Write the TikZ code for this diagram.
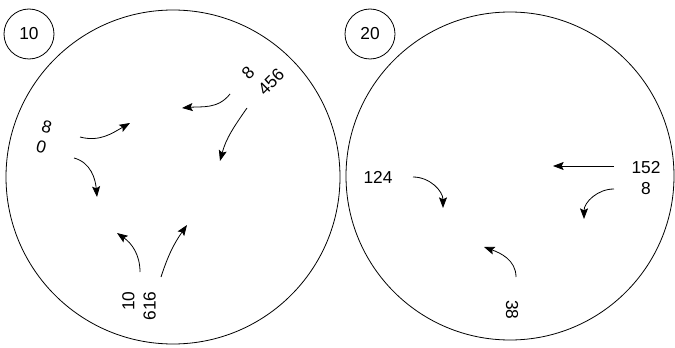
\documentclass[tikz,border=0pt]{standalone}
\usepackage{fontspec}
\setmainfont{Liberation Sans}
\usetikzlibrary{arrows.meta}

\begin{document}
\begin{tikzpicture}[x=0.75pt,y=0.75pt,line width=0.6pt]
  \tikzstyle{every node}=[font=\fontsize{13}{16}\selectfont, inner sep=0pt]
  \tikzstyle{tag}=[circle, draw, minimum size=37.5pt]
  \tikzstyle{flow}=[-{Stealth[length=8pt,width=6pt,inset=1.5pt]}]
  \useasboundingbox (0,0) rectangle (675,347);

  % round 10
  \draw (173,170) circle[radius=167];
  \node[tag] (t10) at (29,313) {10};
  \node[rotate=-15, align=center] (lbl80) at (44,210) {8\\0};
  \node[rotate=45, align=left] (lbl8456) at (263,273) {8\\[1pt]456};
  \node[rotate=90, align=right] (lbl10616) at (139,41) {10\\616};
  \coordinate (p1) at (80,210);  \coordinate (q1) at (130,224);
  \coordinate (p2) at (74,189);  \coordinate (q2) at (97,150);
  \coordinate (p3) at (230,253); \coordinate (q3) at (182,239);
  \coordinate (p4) at (247,239); \coordinate (q4) at (220,186);
  \coordinate (p5) at (140,75);  \coordinate (q5) at (117,114);
  \coordinate (p6) at (161,70);  \coordinate (q6) at (187,122);
  \draw[flow] (p1) to[out=-15,in=210] (q1);
  \draw[flow] (p2) to[out=-15,in=95] (q2);
  \draw[flow] (p3) to[out=232,in=5] (q3);
  \draw[flow] (p4) to[out=235,in=75] (q4);
  \draw[flow] (p5) to[out=90,in=-35] (q5);
  \draw[flow] (p6) to[out=72,in=235] (q6);

  % round 20
  \draw (510,171) circle[radius=164];
  \node[tag] (t20) at (370,313) {20};
  \node (lbl124) at (378,170) {124};
  \node[align=center] (lbl1528) at (646,169) {152\\8};
  \node[rotate=-90] (lbl38) at (512,37) {38};
  \coordinate (r1) at (413,170); \coordinate (s1) at (443,139);
  \coordinate (r2) at (614,181); \coordinate (s2) at (553,181);
  \coordinate (r3) at (614,158); \coordinate (s3) at (584,128);
  \coordinate (r4) at (516,70);  \coordinate (s4) at (484,100);
  \draw[flow] (r1) to[out=0,in=90] (s1);
  \draw[flow] (r2) -- (s2);
  \draw[flow] (r3) to[out=180,in=90] (s3);
  \draw[flow] (r4) to[out=90,in=-20] (s4);
\end{tikzpicture}
\end{document}
